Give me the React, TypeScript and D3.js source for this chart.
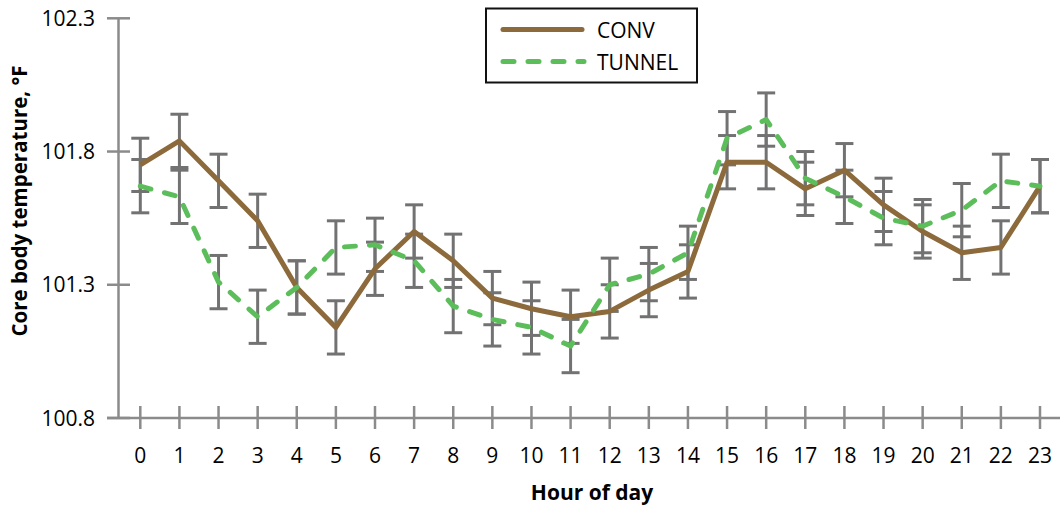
import * as d3 from 'd3';

const hours = d3.range(0, 24);
const yTicks = [100.8, 101.3, 101.8, 102.3];

const conv = [101.75, 101.84, 101.69, 101.54, 101.29, 101.14, 101.36, 101.5, 101.39, 101.25, 101.21, 101.18,
  101.2, 101.28, 101.35, 101.76, 101.76, 101.66, 101.73, 101.6, 101.5, 101.42, 101.44, 101.67];
const tunnel = [101.67, 101.63, 101.31, 101.18, 101.29, 101.44, 101.45, 101.39, 101.22, 101.17, 101.14, 101.07,
  101.3, 101.34, 101.42, 101.85, 101.92, 101.7, 101.63, 101.55, 101.52, 101.58, 101.69, 101.67];
const convErr = [0.1, 0.1, 0.1, 0.1, 0.1, 0.1, 0.1, 0.1, 0.1, 0.1, 0.1, 0.1,
  0.1, 0.1, 0.1, 0.1, 0.1, 0.1, 0.1, 0.1, 0.1, 0.1, 0.1, 0.1];
const tunnelErr = [0.1, 0.1, 0.1, 0.1, 0.1, 0.1, 0.1, 0.1, 0.1, 0.1, 0.1, 0.1,
  0.1, 0.1, 0.1, 0.1, 0.1, 0.1, 0.1, 0.1, 0.1, 0.1, 0.1, 0.1];

const BROWN = '#8c6a3b';
const GREEN = '#5cbd5b';
const AXIS = '#8b8b8b';
const BAR = '#727272';
const FONT = '"Open Sans", sans-serif';

export default function App() {
  const width = 1060;
  const height = 506;

  const x = d3.scaleLinear().domain([0, 23]).range([140.3, 1040]);
  const y = d3.scaleLinear().domain([100.8, 102.3]).range([418, 18.3]);

  const line = d3
    .line<number>()
    .x((_, i) => x(hours[i]))
    .y((d) => y(d));

  // error bars for both series
  const bars = (vals: number[], errs: number[], key: string) =>
    vals.map((v, i) => {
      const cx = x(hours[i]);
      const top = y(v + errs[i]);
      const bot = y(v - errs[i]);
      return (
        <g key={key + i} stroke={BAR} strokeWidth={3}>
          <line x1={cx} x2={cx} y1={top} y2={bot} />
          <line x1={cx - 9} x2={cx + 9} y1={top} y2={top} />
          <line x1={cx - 9} x2={cx + 9} y1={bot} y2={bot} />
        </g>
      );
    });

  return (
    <svg width={width} height={height} style={{ position: 'absolute', left: 0, top: 0, background: '#fff' }}>
      {/* axes */}
      <g stroke={AXIS} strokeWidth={2.5}>
        <line x1={118.5} x2={118.5} y1={y(102.3)} y2={y(100.8)} />
        <line x1={107} x2={1060} y1={y(100.8)} y2={y(100.8)} />
        {yTicks.map((t) => (
          <line key={'yt' + t} x1={107} x2={130} y1={y(t)} y2={y(t)} />
        ))}
        {hours.map((h) => (
          <line key={'xt' + h} x1={x(h)} x2={x(h)} y1={y(100.8) - 12} y2={y(100.8) + 11} />
        ))}
      </g>
      <g fontFamily={FONT} fontSize={21} fill="#000">
        {yTicks.map((t) => (
          <text key={'yl' + t} x={95} y={y(t)} dy="0.36em" textAnchor="end">
            {t.toFixed(1)}
          </text>
        ))}
        {hours.map((h) => (
          <text key={'xl' + h} x={x(h)} y={463} textAnchor="middle">
            {h}
          </text>
        ))}
        <text x={592} y={500} textAnchor="middle" fontWeight="bold" fontSize={21}>
          Hour of day
        </text>
        <text
          transform={`translate(27,${201}) rotate(-90)`}
          textAnchor="middle"
          fontWeight="bold"
          fontSize={20.5}
        >
          Core body temperature, °F
        </text>
      </g>

      {bars(conv, convErr, 'c')}
      {bars(tunnel, tunnelErr, 't')}

      <path d={line(conv) ?? ''} fill="none" stroke={BROWN} strokeWidth={5} strokeLinejoin="round" />
      <path
        d={line(tunnel) ?? ''}
        fill="none"
        stroke={GREEN}
        strokeWidth={5}
        strokeDasharray="11 14"
        strokeLinecap="round"
        strokeLinejoin="round"
      />

      {/* legend */}
      <g>
        <rect x={486} y={8.5} width={211} height={74} fill="#fff" stroke="#111" strokeWidth={2} />
        <line x1={503} x2={582} y1={29.5} y2={29.5} stroke={BROWN} strokeWidth={5} strokeLinecap="round" />
        <line
          x1={503}
          x2={584}
          y1={61.5}
          y2={61.5}
          stroke={GREEN}
          strokeWidth={5}
          strokeLinecap="round"
          strokeDasharray="11 14"
        />
        <text x={597} y={37.5} fontFamily={FONT} fontSize={21} fill="#000">
          CONV
        </text>
        <text x={597} y={69.5} fontFamily={FONT} fontSize={21} fill="#000">
          TUNNEL
        </text>
      </g>
    </svg>
  );
}
